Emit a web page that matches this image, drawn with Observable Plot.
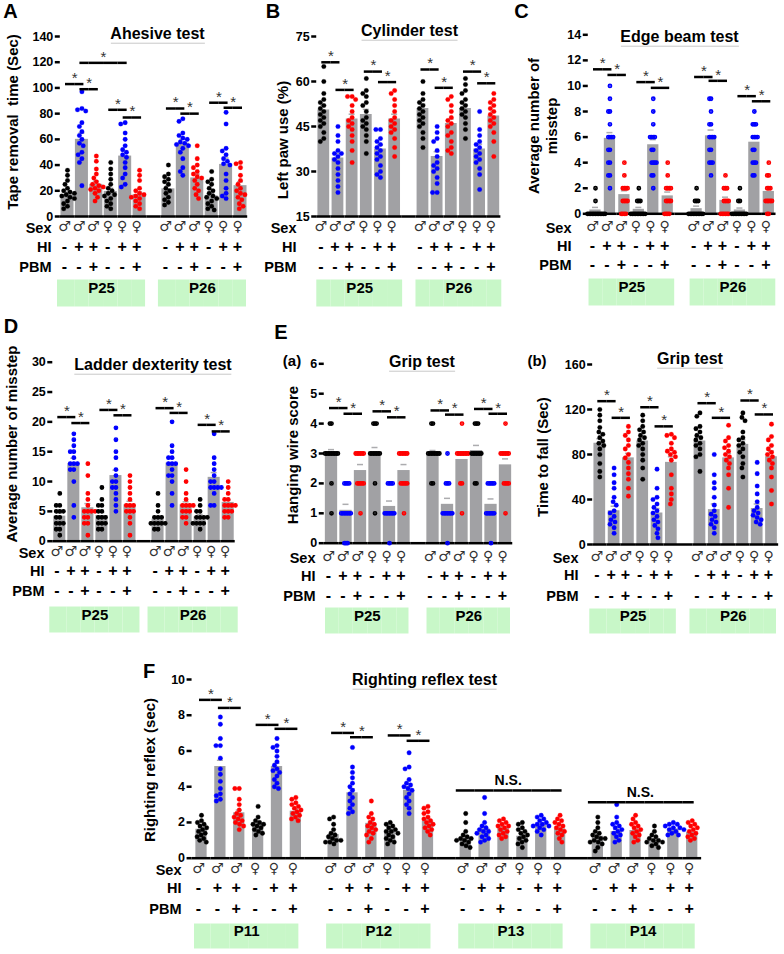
<!DOCTYPE html>
<html><head><meta charset="utf-8">
<script src="https://cdn.jsdelivr.net/npm/d3@7"></script>
<script src="https://cdn.jsdelivr.net/npm/@observablehq/plot@0.6"></script>
<style>
body{margin:0;background:#fff;}
#fig{position:relative;width:784px;height:954px;overflow:hidden;background:#fff;font-family:"Liberation Sans",Arial,sans-serif;}
#fig svg{position:absolute;}
.lbl{position:absolute;white-space:pre;font-weight:bold;color:#000;line-height:1.2;text-align:center;}
</style></head><body><div id="fig"></div>
<script>
// ---------- shared categories ----------
const SEX = ["♂","♂","♂","♀","♀","♀"];
const HI = ["-","+","+","-","+","+"];
const PBM = ["-","-","+","-","-","+"];
const COLORS = ["#000000","#0000ff","#ff0000","#000000","#0000ff","#ff0000"];
const DAYS_AE = ["P25","P26"];
const DAYS_F = ["P11","P12","P13","P14"];

// ---------- A: Adhesive test ----------
const aTicks = [0,20,40,60,80,100,120,140];
const aMeans = [17,60,25,19.5,47,17,21.5,57,30,16,40.5,24];
const aSem = [2,5,2.5,2.5,4,2,2.5,3,3,2,5,3];
const aDots = [
 [36,32,28,25,22,20,19,18,17,16,15,14,12,10,8,6],
 [97,84,83,82,73,70,66,63,60,57,55,50,48,45,42,24],
 [47,43,37,33,30,27,25,24,23,22,21,20,18,15,12],
 [42,37,33,29,25,22,20,18,17,16,14,12,10,8,6],
 [73,72,65,60,55,52,50,48,46,42,38,33,30,25,23],
 [36,32,28,22,20,18,17,16,15,14,12,10,8,6],
 [40,33,31,29,27,25,22,20,18,15,13,11,9],
 [76,74,65,63,61,60,58,57,56,55,53,50,45,38,35,32],
 [55,45,40,38,35,33,31,30,28,25,22,20,17,14],
 [35,29,27,25,22,20,18,16,15,14,12,10,8,6,5],
 [81,72,53,51,48,45,43,41,40,33,28,22,18,16,14],
 [42,41,38,32,28,25,22,20,18,17,15,13,10,8,6]
];
const aSig = [[0,1,103],[1,2,99],[3,4,83],[4,5,77],[6,7,84],[7,8,80],[9,10,88.5],[10,11,84.6]];
const aBracket = [[1,4,119.5,116]];

// ---------- B: Cylinder test ----------
const bTicks = [15,30,45,60,75];
const bMeans = [50.5,34.5,47.5,49,37.5,47.5,51,35,46,51,37.5,48.5];
const bSem = [1.5,1.5,1.6,1.7,1.3,1.6,1.4,1.6,1.5,1.3,1.6,1.4];
const bDots = [
 [65,60,56,54,53,52,51,50,49,48,47,46,45,43,41,40],
 [45,42,40,37,36,36,35,34,33,31,29,27,25,23],
 [55,55,54,52,50,48,47,46,45,44,42,40,37,33],
 [61,57,56,55,53,52,50,48,47,46,45,44,42,40,36],
 [44,44,41,40,39,38,37,36,35,34,32,30,29,28],
 [57,56,54,52,50,48,47,46,45,44,43,41,38,35],
 [60,56,54,53,52,51,50,49,48,47,46,45,43,41,38],
 [45,43,41,40,37,35,33,32,31,30,28,26,23,23],
 [55,54,52,50,48,47,46,45,43,42,40,38,37,36],
 [61,59,57,56,54,53,52,51,50,49,48,46,44,41],
 [50,44,42,40,39,38,37,36,35,34,33,31,29,24],
 [56,54,53,52,51,50,49,48,47,46,45,43,40,35]
];
const bSig = [[0,1,66.4],[1,2,57.2],[3,4,63.3],[4,5,59.8],[6,7,64],[7,8,57.9],[9,10,63.3],[10,11,59.4]];

// ---------- C: Edge beam test ----------
const cTicks = [0,2,4,6,8,10,12,14];
const cMeans = [0.3,5.9,1.5,0.35,5.4,1.4,0.4,6.1,1.05,0.3,5.6,1.75];
const cSem = [0.2,0.45,0.3,0.15,0.4,0.3,0.2,0.45,0.25,0.15,0.35,0.3];
const cDots = [
 [2,1,0,0,0,0,0,0,0,0,0,0,0,0],
 [10,9,8,8,7,6,6,6,6,5,5,4,4,3,3,2],
 [4,3,2,2,2,2,1,1,1,1,0,0,0,0],
 [2,1,1,1,0,0,0,0,0,0,0,0,0,0],
 [9,8,7,6,6,6,6,5,5,4,4,4,4,3,3,2],
 [4,3,2,2,2,2,1,1,1,1,0,0,0,0],
 [2,1,1,1,0,0,0,0,0,0,0,0,0,0],
 [9,9,8,7,7,6,6,6,6,5,5,4,4,4,3],
 [3,2,2,2,1,1,1,1,0,0,0,0,0,0],
 [2,1,1,0,0,0,0,0,0,0,0,0,0],
 [8,7,7,7,6,6,6,6,5,5,4,4,4,3,3],
 [4,3,3,2,2,2,1,1,1,1,1,0,0]
];
const cSig = [[0,1,11.3],[1,2,10.86],[3,4,10.3],[4,5,9.85],[6,7,10.7],[7,8,10.4],[9,10,9.2],[10,11,8.8]];

// ---------- D: Ladder dexterity test ----------
const dTicks = [0,5,10,15,20,25,30];
const dMeans = [4.2,13,5.6,4.3,11,6.1,3.7,13.1,6.1,4.1,10.7,6.5];
const dSem = [0.5,0.9,0.7,0.5,0.9,0.6,0.4,0.8,0.5,0.4,0.8,0.4];
const dDots = [
 [8,6,6,5,5,5,4,4,3,3,3,2,2,1],
 [18,17,16,15,15,14,13,13,13,12,12,10,6,4],
 [13,11,8,7,6,5,5,5,5,4,4,3,3,1],
 [9,7,6,6,5,5,4,4,4,3,3,3,2,2],
 [19,17,15,14,12,11,10,10,9,9,8,7,6,5],
 [11,10,9,8,7,6,6,6,5,5,5,4,3,1],
 [8,6,5,4,4,4,3,3,3,3,3,2,2],
 [20,16,15,14,14,13,13,13,12,11,11,10,8,6],
 [12,10,8,7,6,6,6,6,5,5,5,4,4,3],
 [7,6,5,5,4,4,4,4,3,3,3,3,2],
 [18,14,13,12,11,10,10,9,9,9,9,8,6,6],
 [10,9,8,7,7,6,6,6,6,5,5,5,4,4]
];
const dSig = [[0,1,20.8],[1,2,19.8],[3,4,22],[4,5,21.1],[6,7,22.3],[7,8,21.5],[9,10,19.5],[10,11,18.4]];

// ---------- E(a): Grip test, hanging wire ----------
const eaTicks = [0,1,2,3,4,5,6];
const eaMeans = [2.95,1.1,2.43,3.0,1.23,2.43,2.98,1.3,2.8,3.1,1.3,2.62];
const eaSem = [0.18,0.2,0.2,0.2,0.18,0.2,0.12,0.2,0.15,0.17,0.18,0.2];
const eaDots = [
 [4,4,3,3,3,3,3,3,3,3,3,2,1],
 [2,2,2,2,1,1,1,1,1,1,1,0,0,0],
 [3,3,3,3,3,3,2,2,2,2,2,1],
 [4,4,4,3,3,3,3,3,3,3,2,1],
 [2,2,2,2,1,1,1,1,1,1,1,0],
 [3,3,3,3,3,3,2,2,2,2,2,1],
 [4,4,3,3,3,3,3,3,3,3,2,2],
 [3,2,2,2,1,1,1,1,1,1,1,0],
 [4,3,3,3,3,3,3,3,3,2,2,1],
 [4,4,4,3,3,3,3,3,3,3,2,2],
 [2,2,2,2,2,1,1,1,1,1,1,0],
 [4,3,3,3,3,3,3,2,2,2,2,1]
];
const eaSig = [[0,1,4.52],[1,2,4.33],[3,4,4.41],[4,5,4.21],[6,7,4.44],[7,8,4.3],[9,10,4.49],[10,11,4.33]];

// ---------- E(b): Grip test, time to fall ----------
const ebTicks = [0,40,80,120,160];
const ebMeans = [90,30,77,92,28,73,92,31,77,89,32,78];
const ebSem = [4,4,4,3.5,4,5,3.5,5,4,4,4,5];
const ebDots = [
 [120,115,110,104,100,98,95,92,90,88,85,80,72,65,60],
 [68,62,55,50,42,38,35,30,28,25,22,20,18,15,10],
 [105,100,97,93,88,85,80,77,73,68,63,58,50,43],
 [115,110,105,102,100,97,95,93,90,88,85,80,75,68,58],
 [67,50,42,40,36,33,30,28,25,22,20,17,14,10,6],
 [98,97,95,90,85,83,82,80,78,75,62,50,45,40,36],
 [117,114,105,103,100,97,95,93,90,88,85,80,78,65],
 [80,62,55,50,42,35,30,27,25,22,20,18,15,10],
 [106,95,92,88,86,83,80,78,75,72,68,62,50,33],
 [117,113,110,100,95,93,90,88,85,82,78,72,68,60],
 [73,63,52,45,38,33,30,28,26,24,22,20,18],
 [107,96,93,88,85,82,80,78,75,72,68,60,48,36]
];
const ebSig = [[0,1,127.4],[1,2,112.6],[3,4,122],[4,5,105],[6,7,125.6],[7,8,112.6],[9,10,128],[10,11,115.6]];

// ---------- F: Righting reflex test ----------
const fTicks = [0,2,4,6,8,10];
const fMeans = [1.62,5.13,2.54,1.95,5.13,2.63, 1.32,3.66,1.95,1.55,3.8,2.07, 1.14,1.64,1.68,1.23,1.87,1.64, 1.23,1.49,1.55,0.95,1.64,1.45];
const fSem = [0.1,0.35,0.15,0.1,0.18,0.12, 0.1,0.22,0.12,0.08,0.2,0.1, 0.1,0.15,0.08,0.1,0.07,0.1, 0.1,0.13,0.1,0.07,0.06,0.08];
const fDots = [
 [2.4,2.1,2.0,1.9,1.8,1.7,1.6,1.5,1.4,1.3,1.2,1.1,1.0,0.9],
 [7.9,7.5,6.7,6.3,6.3,5.6,5.0,4.7,4.3,3.9,3.6,3.5,3.3,3.2],
 [3.9,3.9,3.3,3.0,2.7,2.5,2.4,2.3,2.2,2.1,2.0,1.9,1.8,1.6],
 [2.9,2.3,2.1,2.0,1.9,1.9,1.8,1.7,1.6,1.5,1.4,1.3],
 [6.7,6.3,6.2,6.0,5.7,5.4,5.2,5.0,4.9,4.8,4.6,4.4,4.2,4.0,3.9],
 [3.4,3.3,3.1,3.0,2.9,2.8,2.7,2.6,2.5,2.4,2.3,2.2,2.1],
 [2.3,2.2,1.9,1.6,1.4,1.3,1.2,1.1,1.0,1.0,0.9,0.9,0.8],
 [6.2,5.1,4.8,4.5,4.2,4.0,3.8,3.6,3.4,3.2,3.0,2.8,2.6,2.5],
 [3.2,2.5,2.3,2.2,2.0,1.9,1.8,1.7,1.6,1.5,1.4,1.3,1.1,0.9],
 [2.0,1.9,1.8,1.7,1.6,1.5,1.5,1.4,1.3,1.2,1.1,1.0,0.9,0.8],
 [5.9,5.1,5.0,4.4,4.2,4.1,4.0,3.9,3.8,3.6,3.4,3.2,3.0,2.8,2.5],
 [2.9,2.8,2.6,2.5,2.3,2.2,2.1,2.0,1.9,1.8,1.7,1.6,1.5,1.3],
 [2.5,2.0,1.5,1.3,1.2,1.1,1.1,1.0,1.0,0.9,0.8,0.7,0.6],
 [3.4,2.5,2.0,1.8,1.7,1.6,1.5,1.5,1.4,1.3,1.2,1.1,1.0,0.9],
 [2.2,2.1,2.0,1.9,1.8,1.8,1.7,1.6,1.5,1.4,1.3,1.2,1.1],
 [2.0,1.9,1.7,1.6,1.5,1.4,1.3,1.2,1.1,1.0,0.9,0.8,0.6],
 [2.4,2.3,2.2,2.1,2.0,1.9,1.9,1.8,1.8,1.7,1.6,1.5,1.3],
 [2.4,2.2,2.1,2.0,1.9,1.8,1.7,1.6,1.5,1.4,1.3,1.1,0.9],
 [2.3,2.0,1.7,1.5,1.4,1.3,1.2,1.1,1.1,1.0,0.9,0.9,0.8,0.6,0.4],
 [3.0,2.3,2.0,1.9,1.8,1.7,1.6,1.5,1.4,1.3,1.2,1.0,0.9],
 [2.4,2.2,2.0,1.9,1.8,1.7,1.6,1.5,1.4,1.3,1.2,1.0,0.9],
 [1.8,1.5,1.3,1.2,1.1,1.0,1.0,0.9,0.9,0.8,0.7,0.6],
 [2.0,1.9,1.9,1.8,1.7,1.7,1.6,1.6,1.5,1.4,1.3,1.3],
 [2.1,2.0,1.9,1.8,1.7,1.6,1.5,1.4,1.3,1.2,1.1,1.0]
];
const fSig = [[0,1,8.86],[1,2,8.41],[3,4,7.46],[4,5,7.24],[6,7,7.01],[7,8,6.77],[9,10,6.87],[10,11,6.57]];
const fNS = [[12,17,3.79],[18,23,3.13]];

// ---------- page text ----------
const panelLetters = [["A",10.5,11],["B",273,11],["C",521.5,11],["D",11,326],["E",281,332],["F",149,671]];
const subLetters = [["(a)",292,361],["(b)",537,361]];
const titles = [["Ahesive test",157.5,34],["Cylinder test",409.5,31],["Edge beam test",679.5,37],["Ladder dexterity test",153,365],["Grip test",422,362],["Grip test",690,359],["Righting reflex test",424.5,680]];
const yLabels = [["Tape removal  time (Sec)",13,122],["Left paw use (%)",283,140],["Average number of\nmisstep",542.5,126],["Average number of misstep",12,443.5],["Hanging wire score",293,454.5],["Time to fall (Sec)",543,457],["Righting reflex (sec)",150,770]];

// ---------- styles ----------
const BAR_GREY = "#a1a1a4", ERR_GREY = "#acacaf", BOX_GREEN = "#c8f7c8", DOT_R = 2.4;

const fig = document.getElementById("fig");

function makePanel(c) {
  const ids = [];
  c.days.forEach((d, g) => {
    for (let j = 0; j < 6; j++) ids.push("b" + (g * 6 + j));
    if (g < c.days.length - 1) ids.push("gap" + g);
  });
  const nF = ids.length;
  const fw = (c.lastC - c.firstC) / (nF - 1);
  const pos = i => i + Math.floor(i / 6);
  const mL = c.firstC - fw / 2 - c.left;
  const mR = c.w - (c.lastC + fw / 2 - c.left);
  const mT = c.yTop - c.top;
  const mB = c.h - (c.y0 - c.top);
  const base = c.domain[0];

  const bars = c.means.map((m, i) => ({f: ids[pos(i)], mean: m, top: m + c.sems[i], color: COLORS[i % 6], sex: SEX[i % 6], hi: HI[i % 6], pbm: PBM[i % 6]}));
  const pts = c.dots.flatMap((arr, i) => arr.map(v => ({f: ids[pos(i)], v, color: COLORS[i % 6]})));
  const baseline = ids.map(f => ({f, y: base}));

  const segStart = [], segMid = [], segEnd = [], stars = new Map(), brk = [];
  const addLine = (a, b, y, full, txt) => {
    const pa = pos(a), pb = pos(b);
    for (let k = pa; k <= pb; k++) {
      const s = {f: ids[k], y};
      if (k === pa && !full) segStart.push(s); else if (k === pb) segEnd.push(s); else segMid.push(s);
    }
    const mid = full ? (pa - 0.5 + pb) / 2 : (pa + pb) / 2;
    const k = Math.floor(mid + 1e-9), frac = mid - k;
    const key = frac.toFixed(3) + "|" + txt;
    if (!stars.has(key)) stars.set(key, {frac, txt, data: []});
    stars.get(key).data.push({f: ids[k], y});
  };
  c.sig.forEach(([a, b, y]) => addLine(a, b, y, false, "*"));
  (c.ns || []).forEach(([a, b, y]) => addLine(a, b, y, true, "N.S."));
  (c.bracket || []).forEach(([a, b, y, y2]) => {
    addLine(a, b, y, false, "*");
    brk.push({f: ids[pos(a)], y1: y2, y2: y}, {f: ids[pos(b)], y1: y2, y2: y});
  });

  const [L, R] = c.boxExt;
  const boxS = [], boxM = [], boxE = [], boxT = [];
  const midBox = ((0 - L / fw) + (5 + R / fw)) / 2;
  const kB = Math.floor(midBox), fracB = midBox - kB;
  c.days.forEach((d, g) => {
    const first = pos(6 * g), last = pos(6 * g + 5);
    for (let k = first; k <= last; k++) {
      const s = {f: ids[k]};
      if (k === first) boxS.push(s); else if (k === last) boxE.push(s); else boxM.push(s);
    }
    boxT.push({f: ids[first + kB], t: d});
  });
  const boxC = (c.boxY[0] + c.boxY[1]) / 2 - c.y0;
  const boxH = c.boxY[1] - c.boxY[0];
  const [rSex, rHi, rPbm] = c.rowY.map(v => v - c.y0);
  const lblDx = c.labelRight - (c.firstC - fw / 2);
  const yb = () => base;
  const sw = Math.max(0, 2 * (DOT_R - c.dodgeR));

  const marks = [
    Plot.tickY(boxS, {fx: "f", y: yb, dy: boxC, insetLeft: fw / 2 - L, stroke: BOX_GREEN, strokeWidth: boxH}),
    Plot.tickY(boxM, {fx: "f", y: yb, dy: boxC, stroke: BOX_GREEN, strokeWidth: boxH}),
    Plot.tickY(boxE, {fx: "f", y: yb, dy: boxC, insetRight: fw / 2 - R, stroke: BOX_GREEN, strokeWidth: boxH}),
    Plot.text(boxT, {fx: "f", text: "t", frameAnchor: "bottom", dx: fracB * fw, dy: boxC, fontWeight: "bold", fontSize: 15}),
    Plot.barY(bars, {fx: "f", y1: yb, y2: "mean", fill: BAR_GREY, insetLeft: c.barInset, insetRight: c.barInset}),
    Plot.ruleX(bars, {fx: "f", y1: "mean", y2: "top", stroke: ERR_GREY, strokeWidth: 1.5}),
    Plot.tickY(bars, {fx: "f", y: "top", insetLeft: fw / 2 - 3, insetRight: fw / 2 - 3, stroke: ERR_GREY, strokeWidth: 1.5}),
    Plot.ruleY(baseline, {fx: "f", y: "y", strokeWidth: 2.5}),
    Plot.axisY({ticks: c.ticks, tickFormat: d => String(d), tickSize: 5, tickPadding: 2, strokeWidth: 2.5, line: true, fontSize: 12.5, fontWeight: "bold", label: null}),
    Plot.dot(pts, Plot.dodgeX({anchor: "middle", padding: 0},
      {fx: "f", y: "v", r: c.dodgeR, fill: "color", stroke: "color", strokeWidth: sw})),
    Plot.tickY(segStart, {fx: "f", y: "y", insetLeft: fw / 2 - 2, strokeWidth: 2.5}),
    Plot.tickY(segMid, {fx: "f", y: "y", strokeWidth: 2.5}),
    Plot.tickY(segEnd, {fx: "f", y: "y", insetRight: fw / 2 - 2, strokeWidth: 2.5}),
    ...[...stars.values()].map(s => Plot.text(s.data, {
      fx: "f", y: "y", text: () => s.txt, dx: s.frac * fw,
      dy: s.txt === "*" ? -6 : -10,
      fontSize: s.txt === "*" ? 15 : 14, fontWeight: s.txt === "*" ? "normal" : "bold",
      fill: s.txt === "*" ? "#333" : "#000"})),
    Plot.ruleX(brk, {fx: "f", y1: "y1", y2: "y2", strokeWidth: 2.5}),
    Plot.text(bars, {fx: "f", text: "sex", frameAnchor: "bottom", dx: -3, dy: rSex, fontFamily: "DejaVu Sans", fontSize: 14, fill: "#333"}),
    Plot.text(bars, {fx: "f", text: "hi", frameAnchor: "bottom", dx: -3, dy: rHi, fontSize: 16, fontWeight: "bold"}),
    Plot.text(bars, {fx: "f", text: "pbm", frameAnchor: "bottom", dx: -3, dy: rPbm, fontSize: 16, fontWeight: "bold"}),
    Plot.text([{f: ids[0], t: "Sex"}], {fx: "f", text: "t", frameAnchor: "bottom-left", textAnchor: "end", dx: lblDx, dy: rSex + 2.5, fontSize: 14.5, fontWeight: "bold"}),
    Plot.text([{f: ids[0], t: "HI"}], {fx: "f", text: "t", frameAnchor: "bottom-left", textAnchor: "end", dx: lblDx, dy: rHi, fontSize: 14.5, fontWeight: "bold"}),
    Plot.text([{f: ids[0], t: "PBM"}], {fx: "f", text: "t", frameAnchor: "bottom-left", textAnchor: "end", dx: lblDx, dy: rPbm, fontSize: 14.5, fontWeight: "bold"})
  ];

  const chart = Plot.plot({
    width: c.w, height: c.h,
    marginLeft: mL, marginRight: mR, marginTop: mT, marginBottom: mB,
    fx: {domain: ids, paddingInner: 0, paddingOuter: 0, round: false, axis: null},
    y: {domain: c.domain},
    color: {type: "identity"},
    style: {background: "transparent", fontFamily: "Liberation Sans, Arial, sans-serif", fontSize: "13px", overflow: "visible", color: "#000"},
    marks
  });
  chart.style.left = c.left + "px";
  chart.style.top = c.top + "px";
  chart.style.maxWidth = "none";
  fig.appendChild(chart);
}

const panels = [
  {left: 0, top: 0, w: 262, h: 310, firstC: 67, lastC: 240, y0: 216, yTop: 36, domain: [0, 140], ticks: aTicks, means: aMeans, sems: aSem, dots: aDots, sig: aSig, bracket: aBracket, days: DAYS_AE, rowY: [230, 251, 271], boxY: [279, 306], boxExt: [10, 6], labelRight: 51, barInset: 0.7, dodgeR: 2.3},
  {left: 255, top: 0, w: 260, h: 310, firstC: 323.3, lastC: 493.3, y0: 216, yTop: 36, domain: [15, 75], ticks: bTicks, means: bMeans, sems: bSem, dots: bDots, sig: bSig, days: DAYS_AE, rowY: [230, 251, 271], boxY: [279, 306], boxExt: [7, 8], labelRight: 296, barInset: 1.2, dodgeR: 2.3},
  {left: 515, top: 0, w: 269, h: 310, firstC: 595, lastC: 768.3, y0: 213.3, yTop: 34.3, domain: [0, 14], ticks: cTicks, means: cMeans, sems: cSem, dots: cDots, sig: cSig, days: DAYS_AE, rowY: [230, 250, 269], boxY: [278, 305], boxExt: [6.5, 7], labelRight: 571, barInset: 1.6, dodgeR: 0.8},
  {left: 0, top: 300, w: 262, h: 340, firstC: 59.3, lastC: 227.7, y0: 540.7, yTop: 361.7, domain: [0, 30], ticks: dTicks, means: dMeans, sems: dSem, dots: dDots, sig: dSig, days: DAYS_AE, rowY: [555, 575, 595], boxY: [606, 632], boxExt: [10, 10], labelRight: 44, barInset: 1, dodgeR: 1.8},
  {left: 262, top: 300, w: 258, h: 340, firstC: 331, lastC: 505, y0: 542.7, yTop: 363.3, domain: [0, 6], ticks: eaTicks, means: eaMeans, sems: eaSem, dots: eaDots, sig: eaSig, days: DAYS_AE, rowY: [560, 580, 600], boxY: [607, 633], boxExt: [6, 5], labelRight: 315, barInset: 1.1, dodgeR: 0.8},
  {left: 512, top: 300, w: 272, h: 340, firstC: 599.3, lastC: 771, y0: 544, yTop: 364, domain: [0, 160], ticks: ebTicks, means: ebMeans, sems: ebSem, dots: ebDots, sig: ebSig, days: DAYS_AE, rowY: [560, 579, 600], boxY: [608, 633], boxExt: [10, 5], labelRight: 578, barInset: 1.3, dodgeR: 2.3},
  {left: 100, top: 650, w: 684, h: 304, firstC: 201, lastC: 691.7, y0: 857.7, yTop: 679, domain: [0, 10], ticks: fTicks, means: fMeans, sems: fSem, dots: fDots, sig: fSig, ns: fNS, days: DAYS_F, rowY: [872, 892, 913], boxY: [923, 948], boxExt: [7, 3], labelRight: 181, barInset: 3.8, dodgeR: 2.2}
];
panels.forEach(makePanel);

function label(text, cx, cy, size, rot, underline) {
  const d = document.createElement("div");
  d.className = "lbl";
  d.textContent = text;
  d.style.left = cx + "px";
  d.style.top = cy + "px";
  d.style.fontSize = size + "px";
  d.style.transform = "translate(-50%,-50%)" + (rot ? ` rotate(${rot}deg)` : "");
  if (underline) { d.style.borderBottom = "1px solid #c8c8c8"; d.style.lineHeight = "1.1"; }
  fig.appendChild(d);
}
panelLetters.forEach(([t, x, y]) => label(t, x, y, 20));
subLetters.forEach(([t, x, y]) => label(t, x, y, 15));
titles.forEach(([t, x, y]) => label(t, x, y, 16, 0, true));
yLabels.forEach(([t, x, y]) => label(t, x, y, 15, -90));
</script></body></html>
